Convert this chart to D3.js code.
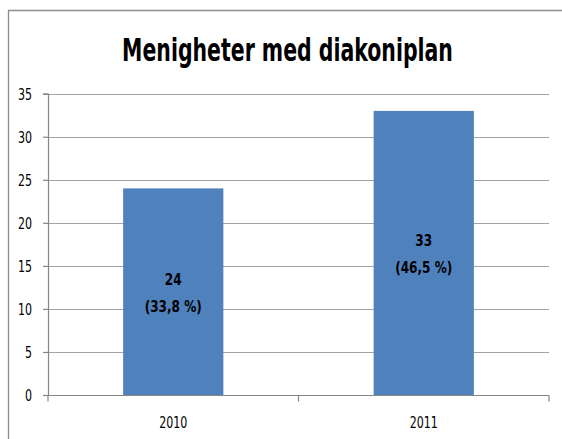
<!DOCTYPE html>
<html>
<head>
<meta charset="utf-8">
<script src="https://d3js.org/d3.v7.min.js"></script>
<style>
  body { margin: 0; background: #fff; overflow: hidden; }
  svg { display: block; }
  svg text { font-family: "Liberation Sans Narrow", "DejaVu Sans Condensed", "Liberation Sans", sans-serif; }
</style>
</head>
<body>
<div id="chart"></div>
<script>
// data
var years = ["2010", "2011"];
var counts = [24, 33];
var shares = ["33,8 %", "46,5 %"];
var yTicks = [0, 5, 10, 15, 20, 25, 30, 35];
var title = "Menigheter med diakoniplan";

var W = 562, H = 439;
var plot = {left: 48, right: 549, top: 93.7, bottom: 395};

var svg = d3.select("#chart").append("svg")
    .attr("width", W)
    .attr("height", H);

// squeeze text horizontally around its anchor so it looks like the narrow original font
function squeeze(sel, k) {
  sel.each(function() {
    var t = d3.select(this);
    var x0 = +t.attr("x") || 0;
    t.attr("transform", "translate(" + x0 + ",0) scale(" + k + ",1) translate(" + (-x0) + ",0)");
  });
}

// chart border, only top and left are inside the picture
svg.append("path")
    .attr("d", "M8.5," + H + "V10.5H" + W)
    .attr("fill", "none")
    .attr("stroke", "#8c8c8c")
    .attr("stroke-width", 1.3);

// title
var titleText = svg.append("text")
    .attr("x", 287.5)
    .attr("y", 61.5)
    .attr("text-anchor", "middle")
    .style("font-size", "32px")
    .style("font-weight", "bold")
    .attr("fill", "#000")
    .text(title);
squeeze(titleText, 331 / titleText.node().getComputedTextLength());

var x = d3.scaleBand()
    .domain(years)
    .range([plot.left, plot.right])
    .paddingInner(0.6)
    .paddingOuter(0.3);

var y = d3.scaleLinear()
    .domain([0, 35])
    .range([plot.bottom, plot.top]);

// gridlines
svg.append("g")
  .selectAll("line")
  .data(yTicks.filter(function(d) { return d > 0; }))
  .enter().append("line")
    .attr("x1", plot.left).attr("x2", plot.right)
    .attr("y1", function(d) { return Math.round(y(d)) + 0.5; })
    .attr("y2", function(d) { return Math.round(y(d)) + 0.5; })
    .attr("stroke", "#a3a3a3")
    .attr("stroke-width", 1.2);

// bars
svg.append("g")
  .selectAll("rect")
  .data(counts)
  .enter().append("rect")
    .attr("x", function(d, i) { return x(years[i]); })
    .attr("y", function(d) { return y(d); })
    .attr("width", x.bandwidth())
    .attr("height", function(d) { return y(0) - y(d); })
    .attr("fill", "#4f81bd");

// y axis
var yAxis = svg.append("g")
    .attr("transform", "translate(" + plot.left + ",0)")
    .call(d3.axisLeft(y).tickValues(yTicks).tickSize(5).tickPadding(0));
yAxis.select(".domain").attr("stroke", "#868686").attr("stroke-width", 1.2);
yAxis.selectAll(".tick line").attr("stroke", "#868686").attr("stroke-width", 1.2);
yAxis.selectAll(".tick text")
    .attr("x", -16)
    .attr("dy", "0.36em")
    .style("font-size", "15px")
    .attr("fill", "#000");
squeeze(yAxis.selectAll(".tick text"), 0.82);

// x axis, ticks between categories like the original
var edges = [plot.left, (plot.left + plot.right) / 2, plot.right];
var xAxis = svg.append("g")
    .attr("transform", "translate(0," + Math.round(plot.bottom) + ".5)");
xAxis.append("line")
    .attr("x1", plot.left).attr("x2", plot.right)
    .attr("stroke", "#868686").attr("stroke-width", 1.2);
xAxis.selectAll(".edge")
  .data(edges)
  .enter().append("line")
    .attr("class", "edge")
    .attr("x1", function(d) { return d; }).attr("x2", function(d) { return d; })
    .attr("y1", 0).attr("y2", 6)
    .attr("stroke", "#868686").attr("stroke-width", 1.2);
var xLabels = xAxis.selectAll("text")
  .data(years)
  .enter().append("text")
    .attr("x", function(d) { return x(d) + x.bandwidth() / 2; })
    .attr("y", 33)
    .attr("text-anchor", "middle")
    .style("font-size", "15px")
    .attr("fill", "#000")
    .text(function(d) { return d; });
squeeze(xLabels, 0.82);

// data labels in the middle of each bar
var labels = svg.append("g")
  .selectAll("g")
  .data(counts)
  .enter().append("g")
    .attr("transform", function(d, i) {
      return "translate(" + (x(years[i]) + x.bandwidth() / 2) + "," + ((y(d) + y(0)) / 2) + ")";
    });
labels.append("text")
    .attr("y", -7)
    .attr("text-anchor", "middle")
    .style("font-size", "16px")
    .style("font-weight", "bold")
    .attr("fill", "#000")
    .text(function(d) { return d; });
labels.append("text")
    .attr("y", 20.5)
    .attr("text-anchor", "middle")
    .style("font-size", "16px")
    .style("font-weight", "bold")
    .attr("fill", "#000")
    .text(function(d, i) { return "(" + shares[i] + ")"; });
squeeze(labels.selectAll("text"), 0.84);
</script>
</body>
</html>
